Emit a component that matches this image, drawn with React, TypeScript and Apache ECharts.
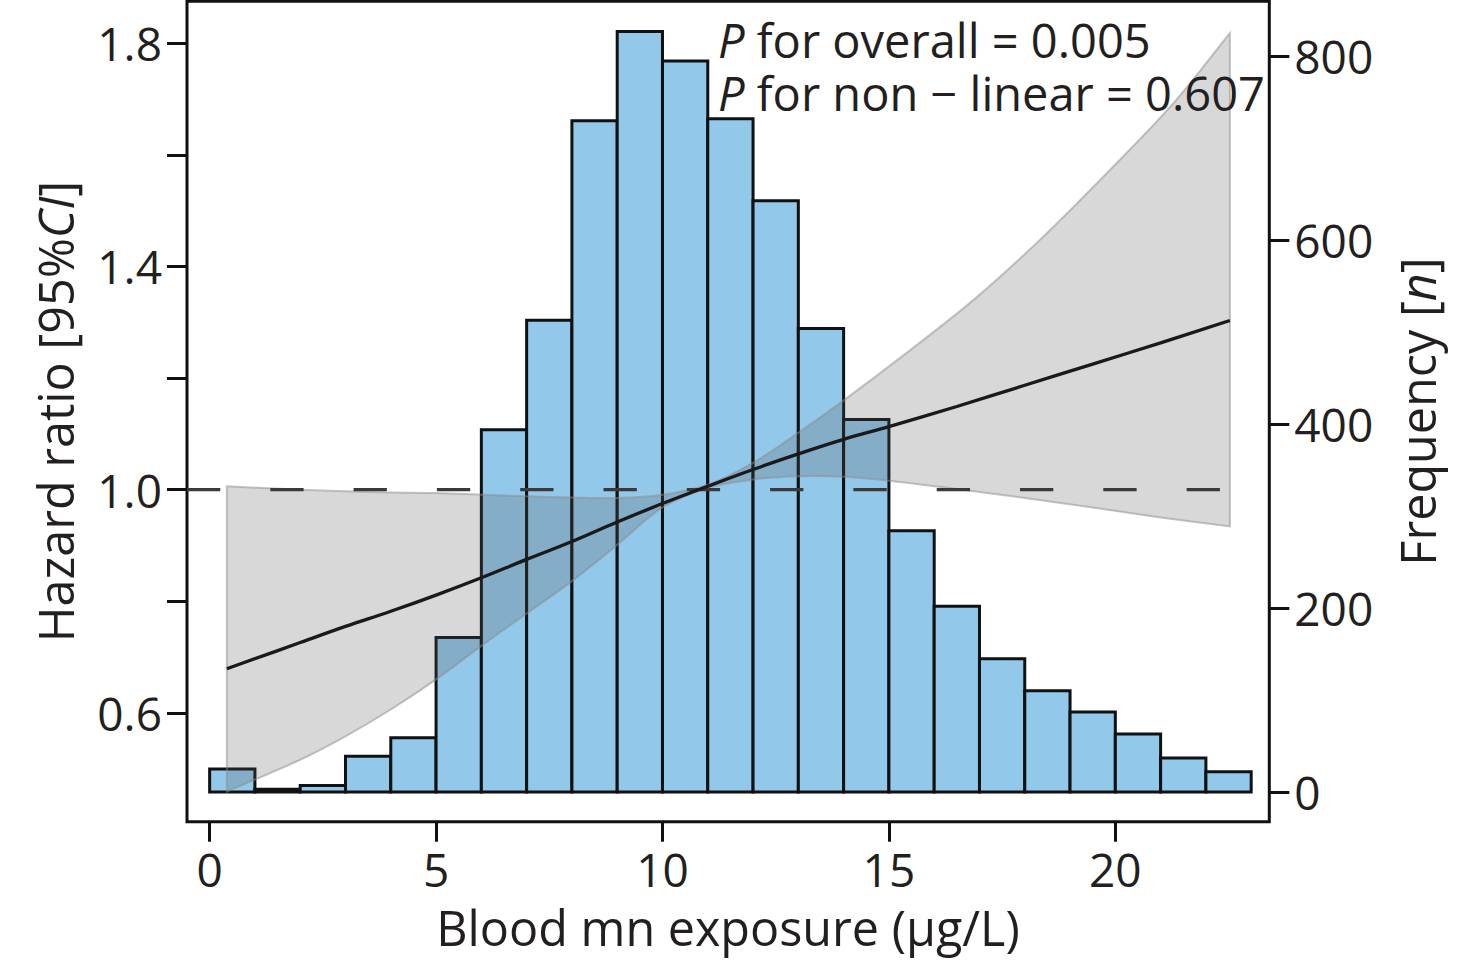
import React, { useEffect, useRef } from "react";
import * as echarts from "echarts";

// Histogram (frequency, right axis)
const binStarts = [0, 1, 2, 3, 4, 5, 6, 7, 8, 9, 10, 11, 12, 13, 14, 15, 16, 17, 18, 19, 20, 21, 22];
const binWidth = 1;
const counts = [25, 3, 7, 39, 59, 168, 394, 513, 730, 827, 795, 732, 643, 504, 405, 284, 202, 145, 110, 87, 63, 37, 22];

// Restricted cubic spline: hazard ratio and lower 95% CI (left axis)
const curveX = [0.38, 2, 3, 4, 5, 6, 7, 8, 9, 10, 11, 12, 13, 14, 15, 16.5, 18, 19.5, 21, 22.53];
const hr = [0.679, 0.726, 0.755, 0.782, 0.811, 0.842, 0.875, 0.907, 0.942, 0.975, 1.006, 1.036, 1.064, 1.09, 1.113, 1.149, 1.187, 1.225, 1.263, 1.303];
const lower = [0.459, 0.516, 0.558, 0.606, 0.66, 0.72, 0.778, 0.836, 0.901, 0.968, 1.003, 1.018, 1.024, 1.023, 1.016, 1.001, 0.985, 0.968, 0.95, 0.934];
// upper 95% CI
const upperX = [0.38, 2, 3, 4, 5, 6, 7, 8, 9, 10, 11, 12, 13, 13.92, 15.39, 16.87, 18.34, 19.81, 21.29, 22.53];
const upper = [1.006, 1.0, 0.997, 0.995, 0.994, 0.991, 0.988, 0.986, 0.985, 0.991, 1.009, 1.048, 1.102, 1.155, 1.245, 1.34, 1.448, 1.567, 1.693, 1.818];

const refHR = 1;
const xMin = -0.5;
const xMax = 23.4;
const xTicks = [0, 5, 10, 15, 20];
const hrMin = 0.405;
const hrMax = 1.875;
const hrTicks = [0.6, 0.8, 1.0, 1.2, 1.4, 1.6, 1.8];
const hrLabels = [0.6, 1.0, 1.4, 1.8];
const freqMin = -32.3;
const freqMax = 859.8;
const freqTicks = [0, 200, 400, 600, 800];

const annotation = "{i|P} for overall = 0.005\n{i|P} for non \u2212 linear = 0.607";
const xTitle = "Blood mn exposure (\u03bcg/L)";
const yLeftTitle = "Hazard ratio [95%{i|CI}]";
const yRightTitle = "Frequency [{i|n}]";

const FONT = "Open Sans";
const FS = 46;
const FS_TITLE = 48.5;
const FS_NOTE = 47;
const TXT = "#231f20";
const AXIS = "#111111";

export default function App() {
  const ref = useRef<HTMLDivElement>(null);

  useEffect(() => {
    const chart = echarts.init(ref.current as HTMLDivElement, null, { renderer: "svg" });
    const italic = (fs: number, lh?: number) => ({
      fontStyle: "italic",
      fontSize: fs,
      fontFamily: FONT,
      fill: TXT,
      ...(lh ? { lineHeight: lh } : {}),
    });
    const plain = (fs: number, lh?: number) => ({
      fontSize: fs,
      fontFamily: FONT,
      fill: TXT,
      ...(lh ? { lineHeight: lh } : {}),
    });

    const option: any = {
      animation: false,
      backgroundColor: "#ffffff",
      textStyle: { fontFamily: FONT },
      grid: {
        left: 187,
        right: 206.7,
        top: 1.3,
        bottom: 142.3,
        show: true,
        borderColor: AXIS,
        borderWidth: 3,
        backgroundColor: "transparent",
      },
      xAxis: {
        type: "value",
        min: xMin,
        max: xMax,
        position: "bottom",
        axisLine: { show: false, onZero: false },
        axisTick: { show: true, length: 20, lineStyle: { color: AXIS, width: 3 }, customValues: xTicks },
        axisLabel: { customValues: xTicks, fontSize: FS, fontFamily: FONT, color: TXT, margin: 24 },
        splitLine: { show: false },
      },
      yAxis: [
        {
          type: "value",
          position: "left",
          min: hrMin,
          max: hrMax,
          axisLine: { show: false, onZero: false },
          axisTick: { show: true, length: 20, lineStyle: { color: AXIS, width: 3 }, customValues: hrTicks },
          axisLabel: {
            customValues: hrLabels,
            formatter: (v: number) => v.toFixed(1),
            fontSize: FS,
            fontFamily: FONT,
            color: TXT,
            margin: 25,
            padding: [6, 0, 0, 0],
          },
          splitLine: { show: false },
        },
        {
          type: "value",
          position: "right",
          min: freqMin,
          max: freqMax,
          axisLine: { show: false, onZero: false },
          axisTick: { show: true, length: 20, lineStyle: { color: AXIS, width: 3 }, customValues: freqTicks },
          axisLabel: { customValues: freqTicks, fontSize: FS, fontFamily: FONT, color: TXT, margin: 25 },
          splitLine: { show: false },
        },
      ],
      series: [
        {
          name: "Frequency",
          type: "custom",
          xAxisIndex: 0,
          yAxisIndex: 1,
          z: 1,
          data: counts.map((c, i) => [binStarts[i], binStarts[i] + binWidth, c]),
          encode: { x: [0, 1], y: 2 },
          renderItem: (_params: any, api: any) => {
            const p0 = api.coord([api.value(0), 0]);
            const p1 = api.coord([api.value(1), api.value(2)]);
            return {
              type: "rect",
              shape: { x: p0[0], y: p1[1], width: p1[0] - p0[0], height: p0[1] - p1[1] },
              style: { fill: "#92c8e9", stroke: AXIS, lineWidth: 3 },
            };
          },
        },
        {
          name: "95% CI",
          type: "custom",
          xAxisIndex: 0,
          yAxisIndex: 0,
          z: 2,
          data: [[curveX[0], lower[0], upper[0]]],
          encode: { x: 0, y: [1, 2] },
          renderItem: (_params: any, api: any) => {
            const up = upperX.map((x, i) => api.coord([x, upper[i]]));
            const lo = curveX.map((x, i) => api.coord([x, lower[i]])).reverse();
            const nu = up.length;
            const nl = lo.length;
            // corners are doubled so that the smoothing keeps them sharp
            const pts = [up[0], ...up, up[nu - 1], lo[0], ...lo, lo[nl - 1]];
            return {
              type: "polygon",
              shape: { points: pts, smooth: 0.33 },
              style: { fill: "rgba(88,88,88,0.23)", stroke: "rgba(140,140,140,0.5)", lineWidth: 2 },
            };
          },
        },
        {
          name: "Reference",
          type: "line",
          yAxisIndex: 0,
          z: 3,
          symbol: "none",
          lineStyle: { color: "#3a3a3a", width: 3.3, type: [33.3, 50] },
          data: [
            [xMin, refHR],
            [xMax, refHR],
          ],
        },
        {
          name: "Hazard ratio",
          type: "line",
          yAxisIndex: 0,
          z: 4,
          smooth: 0.4,
          symbol: "none",
          lineStyle: { color: "#1a1a1a", width: 3.3 },
          data: curveX.map((x, i) => [x, hr[i]]),
        },
      ],
      graphic: [
        {
          type: "text",
          x: 718,
          y: 66.4,
          z: 10,
          style: {
            text: annotation,
            fontSize: FS_NOTE,
            fontFamily: FONT,
            fill: TXT,
            lineHeight: 52.2,
            align: "left",
            verticalAlign: "middle",
            rich: { i: italic(FS_NOTE, 52.2), t: plain(FS_NOTE, 52.2) },
          },
        },
        {
          type: "text",
          x: 728,
          y: 927,
          style: {
            text: xTitle,
            fontSize: FS_TITLE,
            fontFamily: FONT,
            fill: TXT,
            align: "center",
            verticalAlign: "middle",
          },
        },
        {
          type: "text",
          x: 55,
          y: 411.5,
          rotation: Math.PI / 2,
          style: {
            text: yLeftTitle,
            fontSize: FS_TITLE,
            fontFamily: FONT,
            fill: TXT,
            align: "center",
            verticalAlign: "middle",
            rich: { i: italic(FS_TITLE) },
          },
        },
        {
          type: "text",
          x: 1416.5,
          y: 411.5,
          rotation: Math.PI / 2,
          style: {
            text: yRightTitle,
            fontSize: FS_TITLE,
            fontFamily: FONT,
            fill: TXT,
            align: "center",
            verticalAlign: "middle",
            rich: { i: italic(FS_TITLE) },
          },
        },
      ],
    };

    chart.setOption(option);
    return () => {
      chart.dispose();
    };
  }, []);

  return (
    <div
      ref={ref}
      style={{ position: "absolute", left: 0, top: 0, width: 1476, height: 964, background: "#ffffff" }}
    />
  );
}
